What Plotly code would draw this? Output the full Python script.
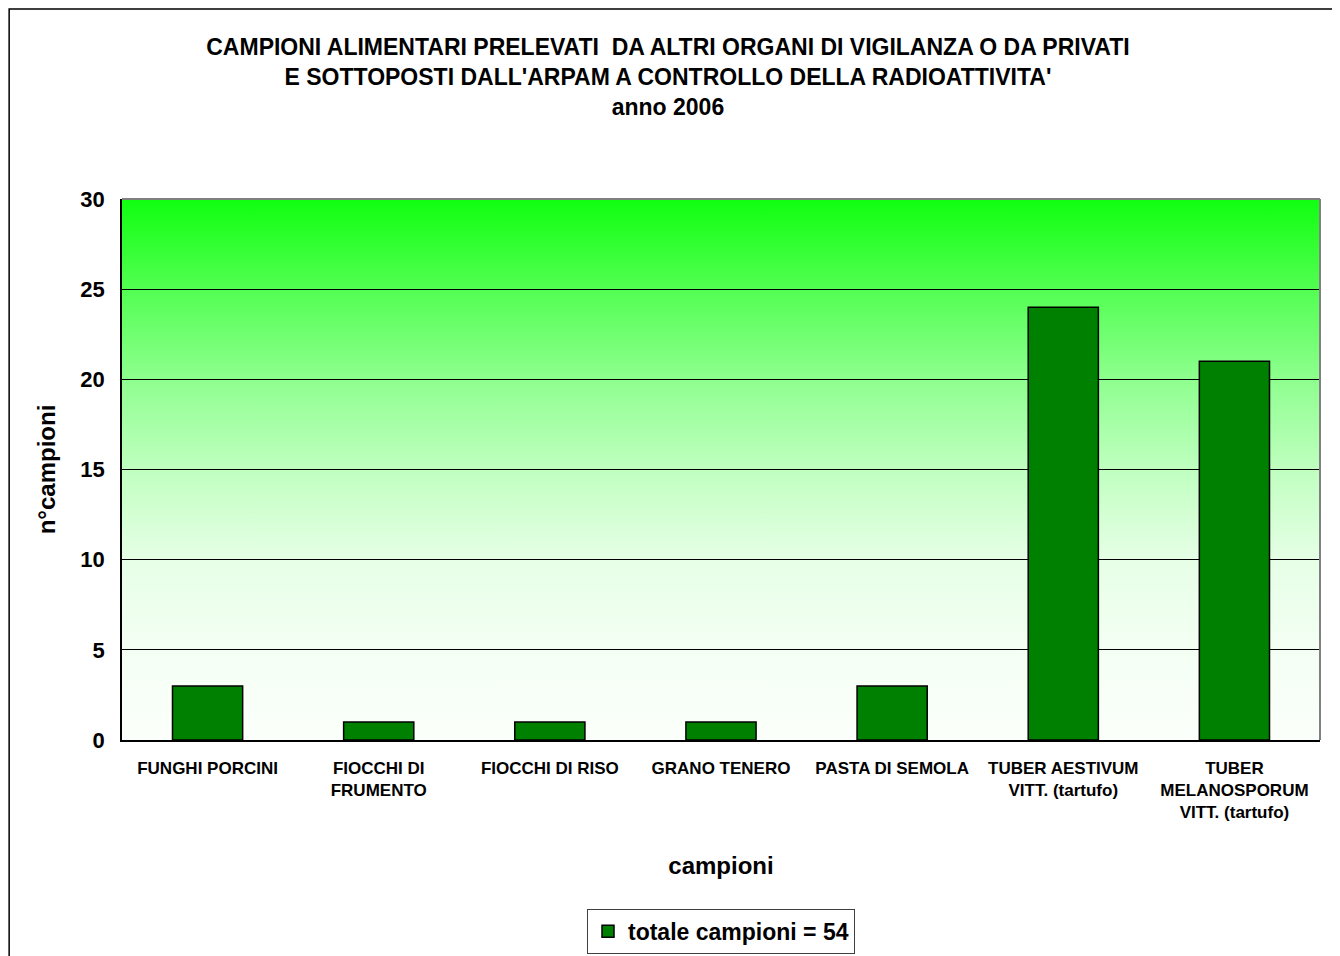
import base64
import plotly.graph_objects as go

# data
categorie = [
    "FUNGHI PORCINI",
    "FIOCCHI DI<br>FRUMENTO",
    "FIOCCHI DI RISO",
    "GRANO TENERO",
    "PASTA DI SEMOLA",
    "TUBER AESTIVUM<br>VITT. (tartufo)",
    "TUBER<br>MELANOSPORUM<br>VITT. (tartufo)",
]
n_campioni = [3, 1, 1, 1, 3, 24, 21]
nome_serie = "totale campioni = 54"
y_ticks = [0, 5, 10, 15, 20, 25, 30]

titolo = ("CAMPIONI ALIMENTARI PRELEVATI  DA ALTRI ORGANI DI VIGILANZA O DA PRIVATI<br>"
          "E SOTTOPOSTI DALL'ARPAM A CONTROLLO DELLA RADIOATTIVITA'<br>"
          "anno 2006")

FONT = "Liberation Sans, Arial, sans-serif"

# green-to-white vertical gradient for the plot background
svg = """<svg xmlns='http://www.w3.org/2000/svg' width='100' height='600' preserveAspectRatio='none'>
<defs><linearGradient id='g' x1='0' y1='0' x2='0' y2='1'>
<stop offset='0' stop-color='#10ff10'/>
<stop offset='0.1667' stop-color='#52ff52'/>
<stop offset='0.3333' stop-color='#8eff8e'/>
<stop offset='0.5' stop-color='#c0ffc0'/>
<stop offset='0.6667' stop-color='#e6ffe6'/>
<stop offset='0.8333' stop-color='#f4fff4'/>
<stop offset='1' stop-color='#fbfffb'/>
</linearGradient></defs>
<rect width='100' height='600' fill='url(#g)'/></svg>"""
svg_uri = "data:image/svg+xml;base64," + base64.b64encode(svg.encode()).decode()

fig = go.Figure()
fig.add_trace(go.Bar(
    x=categorie, y=n_campioni, name=nome_serie,
    marker=dict(color="#008000", line=dict(color="#000000", width=1.5)),
    showlegend=True,
))

# page is drawn with an 8px body margin, so the figure is offset by 8px
fig.update_layout(
    width=1340, height=956,
    margin=dict(l=114, r=28, t=191, b=224, autoexpand=False),
    paper_bgcolor="white",
    plot_bgcolor="rgba(0,0,0,0)",
    bargap=0.59,
    font=dict(family=FONT, color="black"),
    title=dict(text=titolo, x=0.4925, xanchor="center", y=1 - 47 / 956, yanchor="top",
               font=dict(size=23, family=FONT, color="black", weight="bold")),
    showlegend=True,
    legend=dict(orientation="h", x=0.5, xanchor="center", y=-0.312, yanchor="top",
                bordercolor="#404040", borderwidth=1, bgcolor="white",
                font=dict(size=23, family=FONT, weight="bold")),
    images=[dict(source=svg_uri, xref="paper", yref="paper", x=0, y=1, sizex=1, sizey=1,
                 sizing="stretch", layer="below", xanchor="left", yanchor="top")],
    shapes=[
        # outer frame of the chart
        dict(type="rect", xref="paper", yref="paper", x0=-0.0942, x1=1.0117, y0=-0.45, y1=1.3512,
             line=dict(color="black", width=1.5), fillcolor="rgba(0,0,0,0)", layer="below"),
        # plot border (top / right in grey)
        dict(type="line", xref="paper", yref="paper", x0=0, x1=1, y0=1, y1=1,
             line=dict(color="#808080", width=2)),
        dict(type="line", xref="paper", yref="paper", x0=1, x1=1, y0=0, y1=1,
             line=dict(color="#808080", width=2)),
    ],
)

fig.update_xaxes(
    showline=True, linecolor="black", linewidth=1.5,
    showgrid=False, ticks="", tickangle=0, ticklabelstandoff=12,
    tickfont=dict(size=17, family=FONT, weight="bold"),
    title=dict(text="campioni", font=dict(size=24, family=FONT, weight="bold"), standoff=36),
    automargin=False,
)
fig.update_yaxes(
    range=[0, 30], tickvals=y_ticks,
    showline=True, linecolor="black", linewidth=1.5,
    showgrid=True, gridcolor="black", gridwidth=1,
    zeroline=False, ticks="", ticklabelstandoff=11,
    tickfont=dict(size=22, family=FONT, weight="bold"),
    title=dict(text="n°campioni", font=dict(size=24, family=FONT, weight="bold"), standoff=18),
    automargin=False,
)

fig.write_html("out.html")
